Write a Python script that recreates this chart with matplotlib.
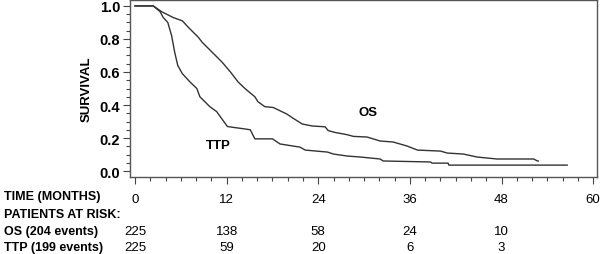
import matplotlib.pyplot as plt
from matplotlib.transforms import blended_transform_factory
from matplotlib.ticker import MultipleLocator

plt.rcParams['font.family'] = ['Liberation Sans', 'DejaVu Sans']
plt.rcParams['font.weight'] = 'bold'

# Kaplan-Meier curves (months, survival)
os_time = [0, 2.4, 3.5, 5.0, 6.2, 7.0, 8.3, 8.8, 10.1, 11.4, 12.5, 13.5, 14.4, 15.7,
           16.1, 17.0, 18.1, 19.0, 19.9, 20.7, 21.9, 23.2, 24.9, 25.3, 26.2, 27.8,
           28.6, 30.4, 32.1, 33.8, 35.6, 37.0, 40.0, 40.9, 43.0, 44.8, 47.4, 52.2,
           52.7, 52.8]
os_surv = [1.0, 1.0, 0.965, 0.93, 0.91, 0.87, 0.81, 0.78, 0.72, 0.66, 0.60, 0.54,
           0.50, 0.45, 0.42, 0.39, 0.385, 0.365, 0.345, 0.32, 0.285, 0.273, 0.268,
           0.245, 0.234, 0.22, 0.21, 0.206, 0.182, 0.176, 0.152, 0.127, 0.121, 0.109,
           0.103, 0.085, 0.073, 0.073, 0.061, 0.061]

ttp_time = [0, 2.4, 3.3, 3.7, 4.3, 4.8, 5.2, 5.6, 6.2, 7.2, 8.1, 8.5, 9.8, 10.7,
            11.4, 12.1, 12.8, 14.4, 15.1, 15.7, 18.0, 19.0, 21.6, 22.3, 25.2, 26.0,
            27.8, 29.5, 32.1, 32.5, 38.7, 38.9, 41.0, 41.1, 56.6]
ttp_surv = [1.0, 1.0, 0.965, 0.93, 0.90, 0.82, 0.72, 0.64, 0.59, 0.54, 0.50, 0.45,
            0.39, 0.36, 0.315, 0.27, 0.265, 0.255, 0.25, 0.195, 0.195, 0.164, 0.145,
            0.127, 0.115, 0.103, 0.091, 0.085, 0.073, 0.061, 0.055, 0.048, 0.048,
            0.036, 0.036]

risk_times = [0, 12, 24, 36, 48]
os_risk = [225, 138, 58, 24, 10]
ttp_risk = [225, 59, 20, 6, 3]
row_labels = ['TIME (MONTHS)', 'PATIENTS AT RISK:', 'OS (204 events)', 'TTP (199 events)']

W, H = 600, 255
fig = plt.figure(figsize=(W / 100, H / 100), dpi=100)
ax = fig.add_axes([130 / W, 1 - 178 / H, 467 / W, 177 / H])

ax.plot(os_time, os_surv, color='#333333', lw=1.0)
ax.plot(ttp_time, ttp_surv, color='#333333', lw=1.0)
ax.text(30.5, 0.36, 'OS', fontsize=9.5, ha='center', va='center')
ax.text(10.9, 0.155, 'TTP', fontsize=9.5, ha='center', va='center')

ax.set_xlim(-0.65, 60.5)
ax.set_ylim(-0.036, 1.036)
ax.xaxis.set_major_locator(MultipleLocator(12))
ax.xaxis.set_minor_locator(MultipleLocator(2))
ax.yaxis.set_major_locator(MultipleLocator(0.2))
ax.yaxis.set_minor_locator(MultipleLocator(0.05))
ax.yaxis.set_major_formatter(lambda v, p: f'{v:.1f}')
for s in ax.spines.values():
    s.set_color('#555555')
    s.set_linewidth(1.0)
ax.tick_params(which='major', length=5, width=0.8, color='#444444')
ax.tick_params(which='minor', length=3, width=0.8, color='#444444')
ax.tick_params(axis='x', which='major', pad=6.5, labelsize=9.5)
ax.tick_params(axis='y', which='major', pad=2, labelsize=10.5)
for lab in ax.get_xticklabels():
    lab.set_fontweight('normal')
ax.set_ylabel('SURVIVAL', fontsize=9.5, fontweight='bold', labelpad=5)

# risk table below the axis
tr = blended_transform_factory(ax.transData, fig.transFigure)
row_y = [197, 215, 232, 248]
for lab, y in zip(row_labels, row_y):
    fig.text(4 / W, 1 - y / H, lab, fontsize=9, ha='left', va='center')
for t, n1, n2 in zip(risk_times, os_risk, ttp_risk):
    ax.text(t, 1 - row_y[2] / H, str(n1), transform=tr, fontsize=9.5,
            fontweight='normal', ha='center', va='center', clip_on=False)
    ax.text(t, 1 - row_y[3] / H, str(n2), transform=tr, fontsize=9.5,
            fontweight='normal', ha='center', va='center', clip_on=False)

fig.savefig('out.png', dpi=100)
